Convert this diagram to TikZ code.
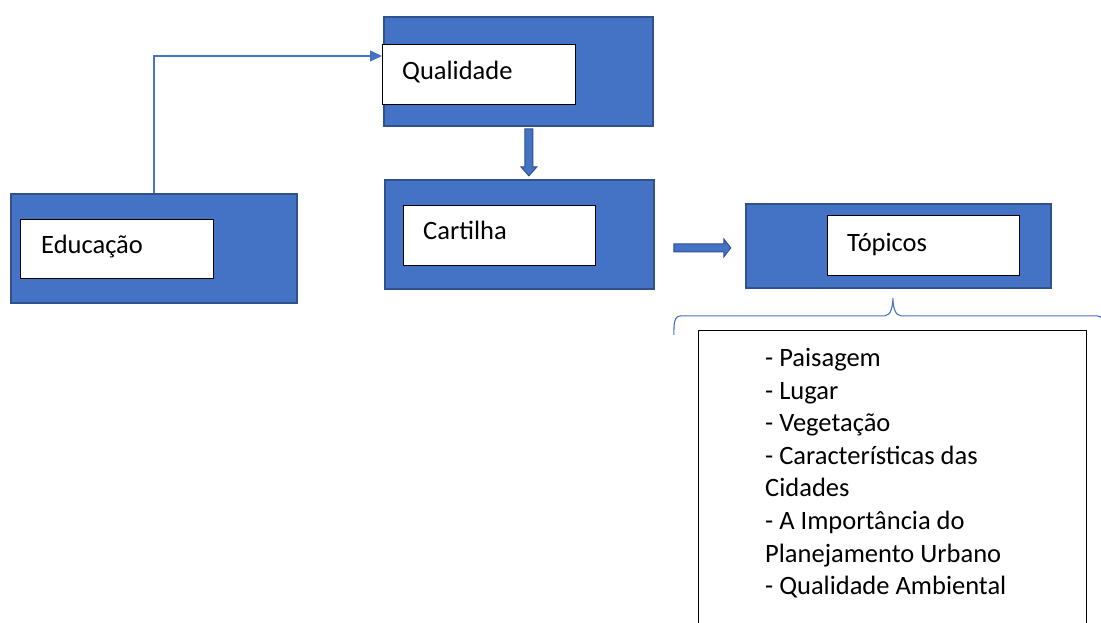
\documentclass[tikz,border=0pt]{standalone}
\usepackage{fontspec}
\setmainfont{Carlito}
\usetikzlibrary{arrows.meta,calc}
\definecolor{boxblue}{HTML}{4472C4}
\definecolor{edgeblue}{HTML}{2F528F}
\begin{document}
\begin{tikzpicture}[x=1bp,y=-1bp,
  outerbox/.style={draw=edgeblue,fill=boxblue,line width=1.8bp,inner sep=0,anchor=north west},
  innerbox/.style={draw=black,fill=white,line width=1bp,inner sep=0,anchor=north west},
  label/.style={anchor=base west,inner sep=0,font=\fontsize{26.5bp}{32.6bp}\selectfont},
  thinlink/.style={draw=boxblue,line width=1.4bp},
  blockarrow/.style={fill=boxblue,draw=edgeblue,line width=1bp,line join=miter}]
\clip (0,0) rectangle (1101,623);
\fill[white] (0,0) rectangle (1101,623);
% Qualidade
\node[outerbox,minimum width=269bp,minimum height=109bp] (qo) at (383,16) {};
\node[innerbox,minimum width=193bp,minimum height=60bp] (qi) at (382,44) {};
\node[label] (qt) at (402,80) {Qualidade};
% Educacao
\node[outerbox,minimum width=286bp,minimum height=109bp] (eo) at (10,193) {};
\node[innerbox,minimum width=193bp,minimum height=59bp] (ei) at (20,219) {};
\node[label] (et) at (41,254) {Educação};
% Cartilha
\node[outerbox,minimum width=269bp,minimum height=109bp] (co) at (384,179) {};
\node[innerbox,minimum width=192bp,minimum height=60bp] (ci) at (403,205) {};
\node[label] (ct) at (423,240) {Cartilha};
% Topicos
\node[outerbox,minimum width=305bp,minimum height=84bp] (to) at (745,203) {};
\node[innerbox,minimum width=192bp,minimum height=60bp] (ti) at (827,215) {};
\node[label] (tt) at (847,252) {Tópicos};
% list box
\node[draw=black,line width=1bp,inner sep=0,anchor=north west,minimum width=388bp,minimum height=320bp] (list) at (698,330) {};
\node[inner sep=0,anchor=north west,align=left,font=\fontsize{26.5bp}{32.6bp}\selectfont] (items) at (765,348)
 {- Paisagem\\- Lugar\\- Vegetação\\- Características das\\Cidades\\- A Importância do\\Planejamento Urbano\\- Qualidade Ambiental};
% connector Educacao -> Qualidade
\draw[thinlink,-{Triangle[length=12bp,width=11bp]}] (eo.north) |- ([yshift=-12bp]qi.north west);
% block arrow Qualidade -> Cartilha
\path (qo.south) ++(10.5,0) coordinate (va);
\draw[blockarrow] (va) ++(-4,2) -- ++(8,0) -- ++(0,38) -- ++(4,0) -- ++(-8,9) -- ++(-8,-9) -- ++(4,0) -- cycle;
% block arrow Cartilha -> Topicos
\path (co.east) ++(19,13.5) coordinate (ha);
\draw[blockarrow] (ha) ++(0,-4) -- ++(50,0) -- ++(0,-5) -- ++(7,9) -- ++(-7,9) -- ++(0,-5) -- ++(-50,0) -- cycle;
% brace
\path (to.south) ++(-5.5,9) coordinate (bt);
\draw[thinlink,line width=1.1bp] (bt) ++(-219,37)
  .. controls ++(0,-12) and ++(-8,0) .. ++(8,-19) -- ++(203,0)
  .. controls ++(6,0) and ++(0,8) .. ++(8,-18)
  .. controls ++(0,8) and ++(-6,0) .. ++(8,18) -- ++(195,0)
  .. controls ++(8,0) and ++(0,-12) .. ++(8,19);
\end{tikzpicture}
\end{document}
